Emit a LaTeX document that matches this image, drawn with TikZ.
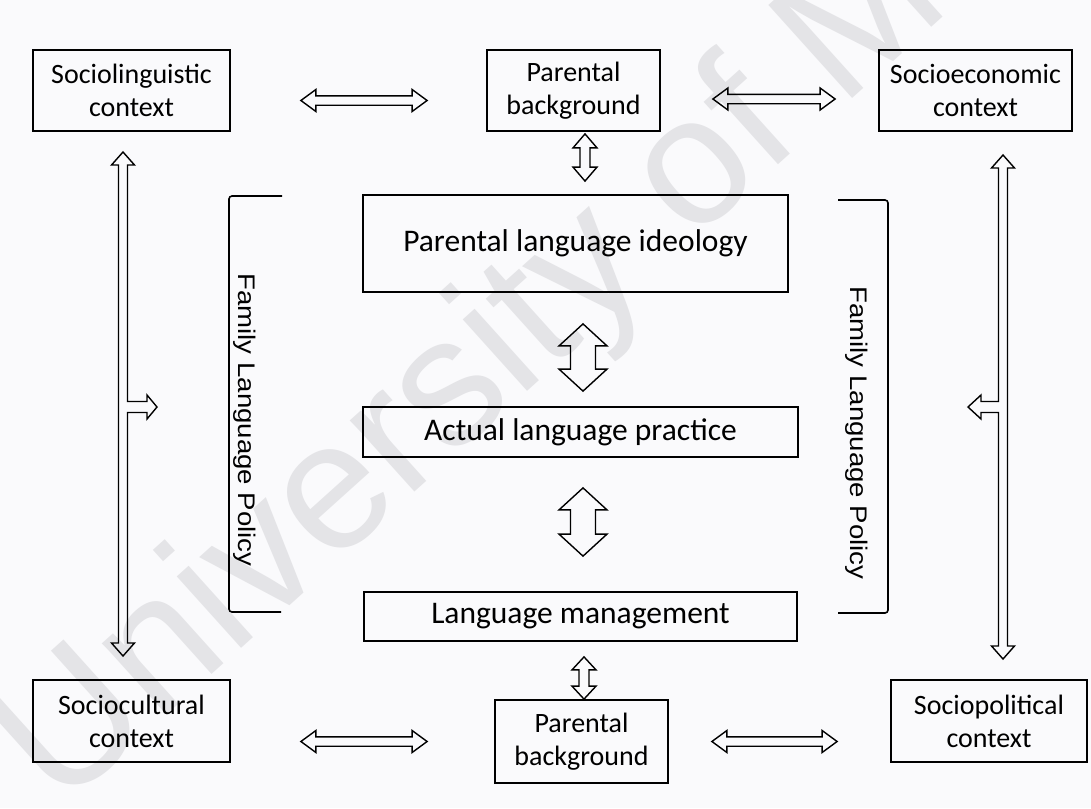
\documentclass[tikz,border=0pt]{standalone}
\usepackage{fontspec}
\setmainfont{Carlito}
\newfontfamily\arialf{Liberation Sans}
\usepackage{graphicx}
\usetikzlibrary{calc}
\definecolor{bgc}{RGB}{250,250,252}
\definecolor{wmc}{RGB}{228,228,231}
\newcommand{\blockarrow}[5]{%
  \coordinate (ba1) at #1; \coordinate (ba2) at #2;
  \coordinate (bh1) at ($(ba1)!#5!(ba2)$);
  \coordinate (bh2) at ($(ba2)!#5!(ba1)$);
  \draw[blk] (ba1) -- ($(bh1)!#4!90:(ba2)$) -- ($(bh1)!#3!90:(ba2)$)
    -- ($(bh2)!#3!-90:(ba1)$) -- ($(bh2)!#4!-90:(ba1)$) -- (ba2)
    -- ($(bh2)!#4!90:(ba1)$) -- ($(bh2)!#3!90:(ba1)$)
    -- ($(bh1)!#3!-90:(ba2)$) -- ($(bh1)!#4!-90:(ba2)$) -- cycle;}
\begin{document}
\begin{tikzpicture}[x=1pt,y=-1pt,
  box/.style={draw=black, line width=1.8pt, inner sep=0pt, align=center,
    font=\fontsize{28}{33}\selectfont},
  mbox/.style={draw=black, line width=1.8pt, inner sep=0pt,
    font=\fontsize{31.5}{36}\selectfont},
  blk/.style={draw=black, line width=1.4pt, line join=miter},
  brk/.style={draw=black, line width=1.6pt, rounded corners=3pt},
  flp/.style={font=\arialf\fontsize{24}{28}\selectfont, rotate=-90, inner sep=0pt}]
\fill[bgc] (0,0) rectangle (1091,808);
\useasboundingbox (0,0) rectangle (1091,808);
% watermark
\begin{scope}
\clip (0,0) rectangle (1091,808);
\node[wmc, font=\arialf\fontsize{182}{182}\selectfont, rotate=42, anchor=base west, inner sep=0pt]
  (wm) at (60,812) {University of Malaya};
\end{scope}
% boxes
\node[box, minimum width=197pt, minimum height=81pt] (slc) at (131.5,90.5) {Sociolinguistic\\context};
\node[box, minimum width=173pt, minimum height=81pt] (pbt) at (573.5,90.5) {Parental\\background};
\node[box, minimum width=193pt, minimum height=81pt] (sec) at (975.5,90.5) {Socioeconomic\\context};
\node[mbox, minimum width=425pt, minimum height=97pt] (pli) at (575.5,243.5) {Parental language ideology};
\node[mbox, minimum width=435pt, minimum height=50pt] (alp) at (580.5,432) {Actual language practice};
\node[mbox, minimum width=433pt, minimum height=49pt] (lm) at (580.5,616.5) {Language management};
\node[box, minimum width=197pt, minimum height=82pt] (scc) at (131.5,721) {Sociocultural\\context};
\node[box, minimum width=173pt, minimum height=83pt] (pbb) at (581.5,741.5) {Parental\\background};
\node[box, minimum width=196pt, minimum height=82pt] (spc) at (989,721) {Sociopolitical\\context};
% horizontal arrows
\blockarrow{($(slc.east)+(70,10)$)}{($(pbt.west)+(-59,10)$)}{4.7pt}{11pt}{15pt}
\blockarrow{($(pbt.east)+(52,8.5)$)}{($(sec.west)+(-43,8.5)$)}{4.7pt}{11pt}{15pt}
\blockarrow{($(scc.east)+(70,20.5)$)}{($(pbb.west)+(-67,0)$)}{4.7pt}{11pt}{15pt}
\blockarrow{($(pbb.east)+(43,0)$)}{($(spc.west)+(-53,20.5)$)}{4.7pt}{11pt}{15pt}
% vertical arrows
\blockarrow{($(pbt.south)+(11.5,2)$)}{($(pli.north)+(9.5,-13)$)}{5pt}{12pt}{14pt}
\blockarrow{($(pli.south)+(7.5,31)$)}{($(alp.north)+(2.5,-15)$)}{12.5pt}{24pt}{22pt}
\blockarrow{($(alp.south)+(2.5,30)$)}{($(lm.north)+(2.5,-35)$)}{12.5pt}{24pt}{22pt}
\blockarrow{($(lm.south)+(3.5,15)$)}{($(pbb.north)+(2.5,0)$)}{5pt}{12pt}{13pt}
% long arrows with branches
\draw[blk] (123,152) -- (134.5,165) -- (127.5,165) -- (127.5,401.5) -- (147,401.5) -- (147,395)
  -- (157,407) -- (147,419) -- (147,412.5) -- (127.5,412.5) -- (127.5,643) -- (134.5,643)
  -- (123,656) -- (111.5,643) -- (118.5,643) -- (118.5,165) -- (111.5,165) -- cycle;
\draw[blk] (1003,155) -- (1014.5,168) -- (1007.5,168) -- (1007.5,646) -- (1014.5,646)
  -- (1003,659) -- (991.5,646) -- (998.5,646) -- (998.5,412.5) -- (981,412.5) -- (981,419)
  -- (968,407) -- (981,395) -- (981,401.5) -- (998.5,401.5) -- (998.5,168) -- (991.5,168) -- cycle;
% brackets
\draw[brk] (282,196) -- (229,196) -- (229,612) -- (281,612);
\draw[brk] (838,200) -- (888,200) -- (888,613) -- (838,613);
\node[flp] (fl) at (245,420) {\scalebox{1.15}[1]{Family Language Policy}};
\node[flp] (fr) at (857,433) {\scalebox{1.15}[1]{Family Language Policy}};
\end{tikzpicture}
\end{document}
